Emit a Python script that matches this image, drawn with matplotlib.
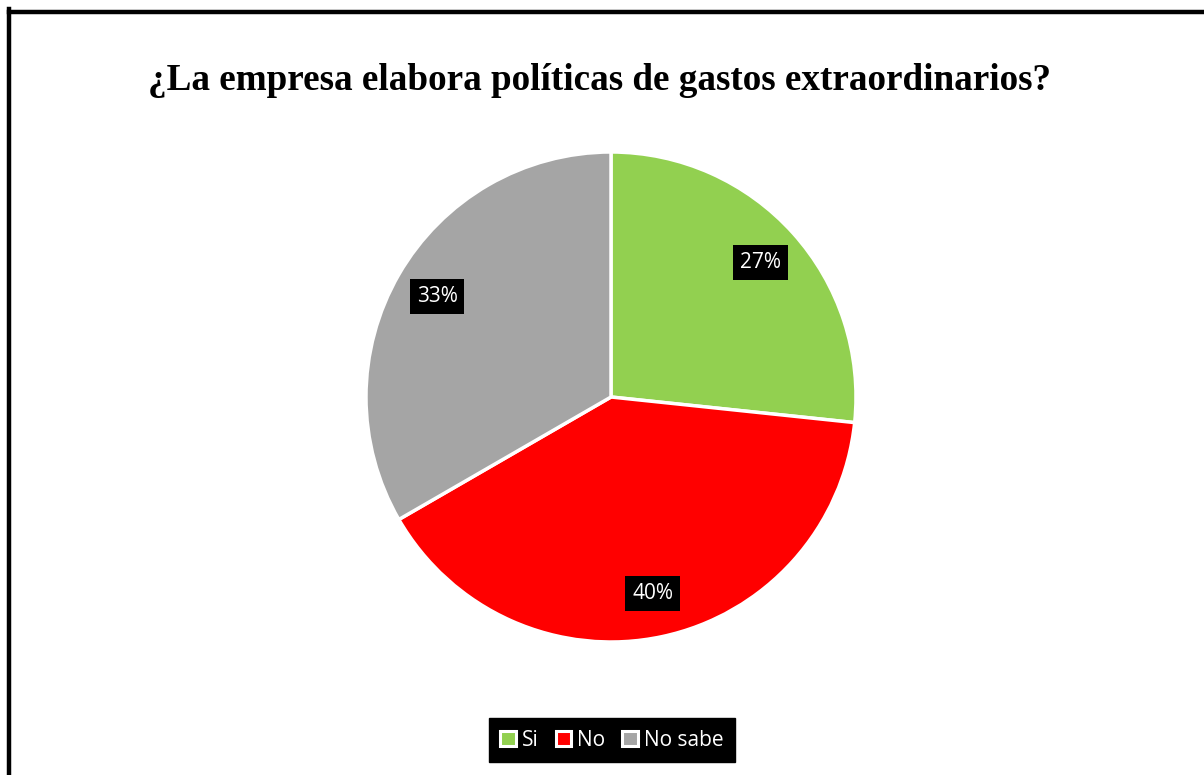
import matplotlib
matplotlib.use("Agg")
import matplotlib.pyplot as plt
from matplotlib.patches import Patch
from matplotlib.lines import Line2D

categories = ["Si", "No", "No sabe"]
values = [8, 12, 10]
labels_pct = ["27%", "40%", "33%"]
colors = ["#92D050", "#FF0000", "#A5A5A5"]
title = "¿La empresa elabora políticas de gastos extraordinarios?"

fig = plt.figure(figsize=(12.04, 7.75), dpi=100)
fig.patch.set_facecolor("white")

# border lines (top and left only visible)
fig.add_artist(Line2D([9/1204, 9/1204], [0, 1 - 9/775], color="black", lw=3.2,
                      transform=fig.transFigure, solid_capstyle="projecting"))
fig.add_artist(Line2D([9/1204, 1], [1 - 11.5/775, 1 - 11.5/775], color="black", lw=3.2,
                      transform=fig.transFigure, solid_capstyle="projecting"))

cx, cy, r = 611, 397, 245
ax = fig.add_axes([(cx - r) / 1204, (775 - cy - r) / 775, 2 * r / 1204, 2 * r / 775])
wedges, texts = ax.pie(values, colors=colors, startangle=90, counterclock=False,
                       labels=labels_pct, labeldistance=0.82,
                       wedgeprops=dict(edgecolor="white", linewidth=2.5),
                       textprops=dict(color="white", fontsize=15, family="Open Sans",
                                      ha="center", va="center"))
for t in texts:
    t.set_bbox(dict(facecolor="black", edgecolor="none", pad=5))
ax.set_xlim(-1, 1)
ax.set_ylim(-1, 1)
ax.set_aspect("equal")

fig.text(600 / 1204, 1 - 81 / 775, title, ha="center", va="center",
         fontsize=26.7, fontweight="bold", family="Liberation Serif")

handles = [Patch(facecolor=c, edgecolor="white", linewidth=2.2) for c in colors]
leg = fig.legend(handles, categories, loc="center", bbox_to_anchor=(612 / 1204, 1 - 740 / 775),
                 ncol=3, frameon=True, fancybox=False, handlelength=0.75, handleheight=0.75,
                 handletextpad=0.3, columnspacing=0.8, borderpad=0.55,
                 prop=dict(family="Open Sans", size=15))
leg.get_frame().set_facecolor("black")
leg.get_frame().set_edgecolor("black")
leg.get_frame().set_alpha(1)
for t in leg.get_texts():
    t.set_color("white")

fig.savefig("out.png", dpi=100)
